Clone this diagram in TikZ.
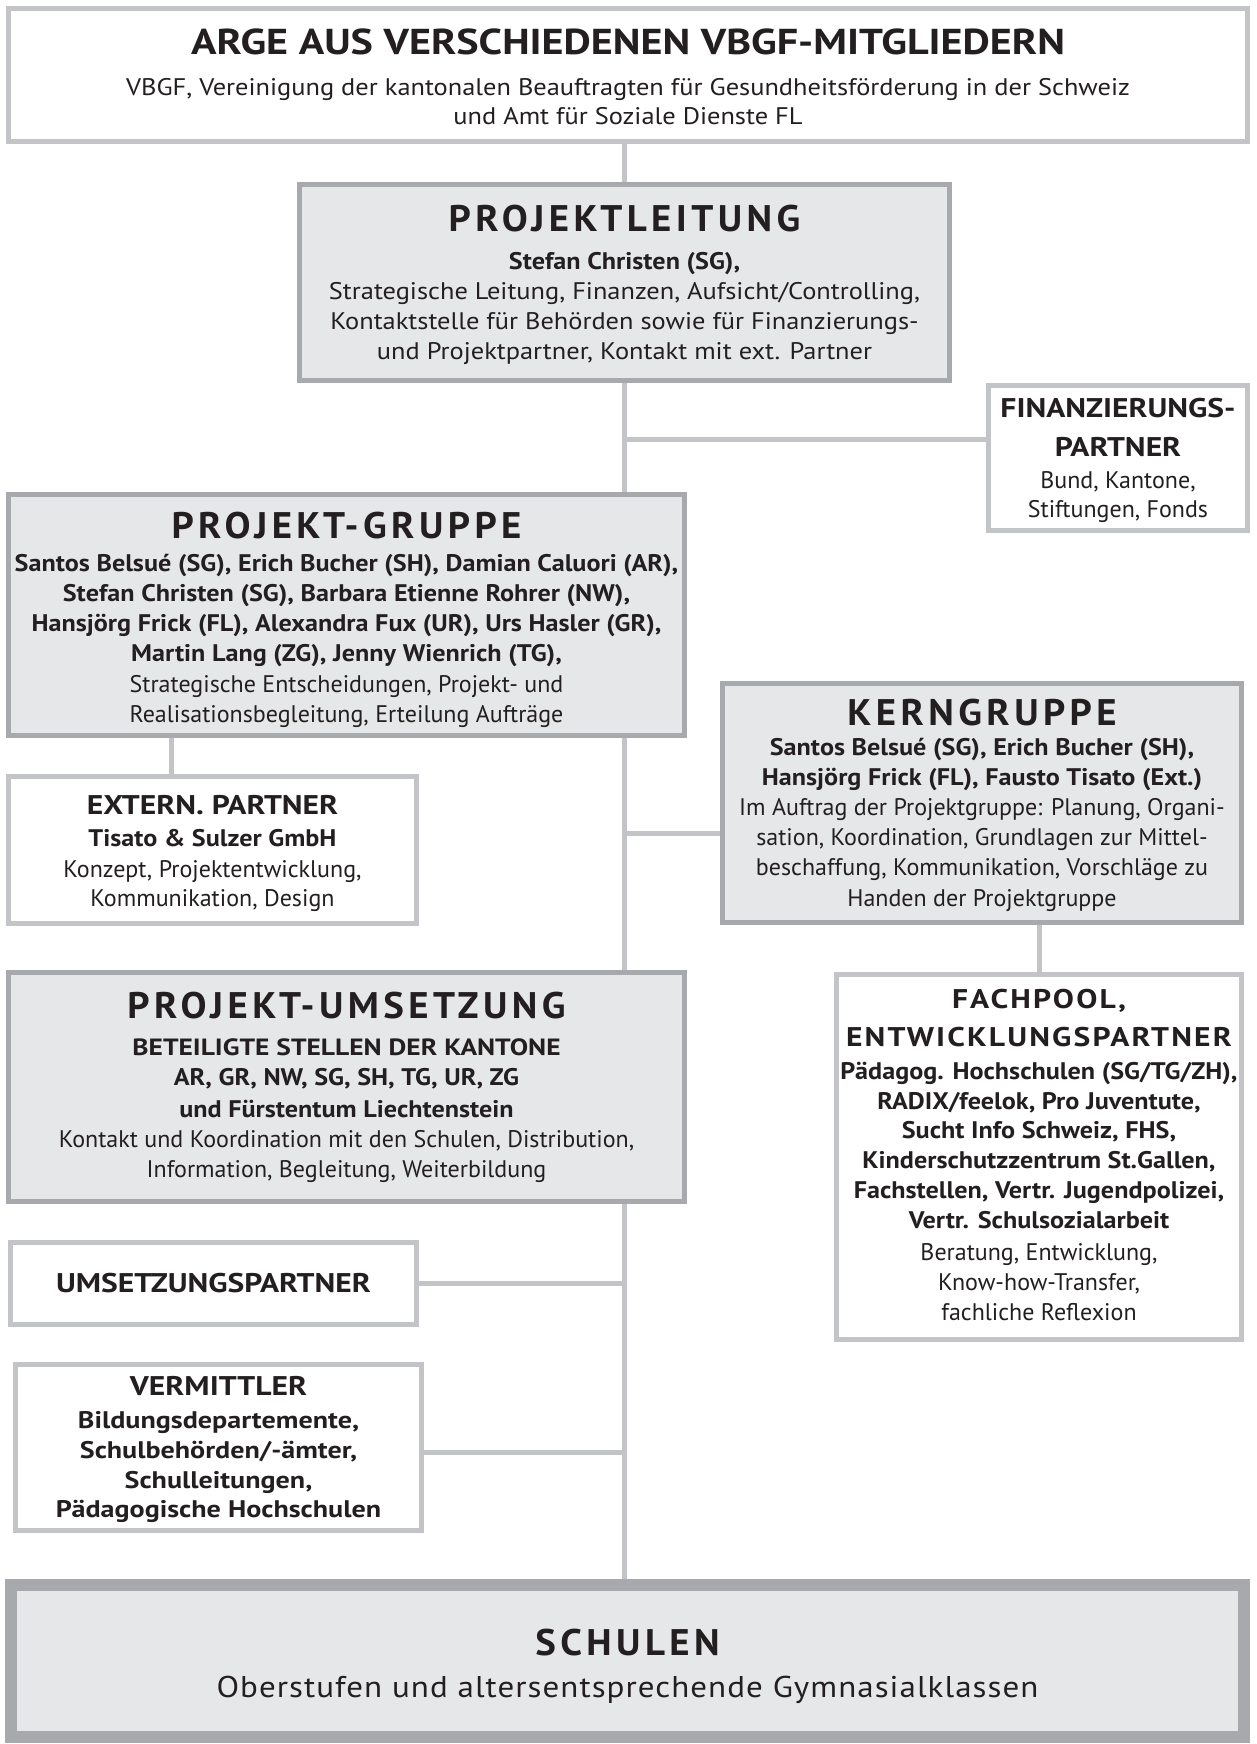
\documentclass[tikz,border=0pt]{standalone}
\usepackage{fontspec}
\setmainfont{PT Sans}[BoldFeatures={FakeStretch=1.09}]
\newfontfamily\widebody{PT Sans}[FakeStretch=1.10]
\newfontfamily\headfont{PT Sans}[FakeStretch=1.17]
\newfontfamily\widehead{PT Sans}[FakeStretch=1.05,LetterSpace=12]
\newfontfamily\fachfont{PT Sans}[FakeStretch=1.17,LetterSpace=8]
\newfontfamily\loose{PT Sans}[FakeStretch=1.10,LetterSpace=3.5]
\usetikzlibrary{calc,positioning}
\definecolor{rim}{HTML}{C3C4C7}
\definecolor{darkrim}{HTML}{A7A9AC}
\definecolor{pane}{HTML}{E6E7E8}
\definecolor{ink}{HTML}{231F20}
\newcommand\fsz[2]{\fontsize{#1}{#2}\selectfont}

\begin{document}
\begin{tikzpicture}[x=1pt,y=-1pt,
  box/.style={draw=rim,line width=5pt,fill=white,inner sep=0pt},
  panebox/.style={box,draw=darkrim,fill=pane},
  txt/.style={inner sep=0pt,align=center,text=ink,font=\fsz{24}{30}},
  link/.style={draw=rim,line width=5pt}]
\useasboundingbox (0,0) rectangle (1257,1744);
\node[box,minimum width=1239pt,minimum height=133pt] (arge) at (628,75) {};
\node[panebox,minimum width=650pt,minimum height=196pt] (leitung) at (624.5,282.5) {};
\node[box,minimum width=259pt,minimum height=145pt] (finanz) at (1118,458) {};
\node[panebox,minimum width=676pt,minimum height=241pt] (gruppe) at (346.5,615) {};
\node[panebox,minimum width=519pt,minimum height=239pt] (kern) at (982,803) {};
\node[box,minimum width=408pt,minimum height=147pt] (extern) at (212.5,850) {};
\node[panebox,minimum width=676pt,minimum height=229pt] (umsetzung) at (346.5,1087) {};
\node[box,minimum width=405pt,minimum height=365pt] (fachpool) at (1039,1157) {};
\node[box,minimum width=406pt,minimum height=82pt] (upartner) at (213.5,1283.5) {};
\node[box,minimum width=406pt,minimum height=166pt] (vermittler) at (218.5,1447.5) {};
\node[panebox,line width=12pt,minimum width=1233pt,minimum height=152pt] (schulen) at (627.5,1661) {};

\node[txt,below=22.5pt of arge.north] (argeT) {\fsz{36}{40}\headfont\bfseries ARGE AUS VERSCHIEDENEN VBGF-MITGLIEDERN\\[11pt]
  \widebody VBGF, Vereinigung der kantonalen Beauftragten für Gesundheitsförderung in der Schweiz\\[-1pt]
  \widebody und Amt für Soziale Dienste FL};
\node[txt,below=23pt of leitung.north] (leitungT) {\fsz{37}{40}\widehead\bfseries PROJEKTLEITUNG\\[8pt]
  \bfseries Stefan Christen (SG),\\
  \widebody Strategische Leitung, Finanzen, Aufsicht/Controlling,\\
  \widebody Kontaktstelle für Behörden sowie für Finanzierungs-\\
  \widebody und Projektpartner, Kontakt mit ext. Partner};
\node[txt,below=15.5pt of finanz.north] (finanzT) {\fsz{27}{30}\headfont\bfseries FINANZIERUNGS-\\[9pt]
  \fsz{27}{30}\headfont\bfseries PARTNER\\[2pt]
  Bund, Kantone,\\[-1pt]
  Stiftungen, Fonds};
\node[txt,below=20pt of gruppe.north] (gruppeT) {\fsz{37}{40}\widehead\bfseries PROJEKT-GRUPPE\\[3pt]
  \bfseries Santos Belsué (SG), Erich Bucher (SH), Damian Caluori (AR),\\
  \bfseries Stefan Christen (SG), Barbara Etienne Rohrer (NW),\\
  \bfseries Hansjörg Frick (FL), Alexandra Fux (UR), Urs Hasler (GR),\\
  \bfseries Martin Lang (ZG), Jenny Wienrich (TG),\\[1pt]
  Strategische Entscheidungen, Projekt- und\\
  Realisationsbegleitung, Erteilung Aufträge};
\node[txt,below=17.5pt of kern.north] (kernT) {\fsz{37}{40}\widehead\bfseries KERNGRUPPE\\[0.5pt]
  \bfseries Santos Belsué (SG), Erich Bucher (SH),\\
  \bfseries Hansjörg Frick (FL), Fausto Tisato (Ext.)\\
  Im Auftrag der Projektgruppe: Planung, Organi-\\
  sation, Koordination, Grundlagen zur Mittel-\\
  beschaffung, Kommunikation, Vorschläge zu\\[1pt]
  Handen der Projektgruppe};
\node[txt,below=21.5pt of extern.north] (externT) {\fsz{27}{30}\headfont\bfseries EXTERN. PARTNER\\[2pt]
  \bfseries Tisato \& Sulzer GmbH\\[1pt]
  Konzept, Projektentwicklung,\\[-1pt]
  Kommunikation, Design};
\node[txt,below=22pt of umsetzung.north] (umsetzungT) {\fsz{37}{40}\widehead\bfseries PROJEKT-UMSETZUNG\\[6.5pt]
  \fsz{23.5}{30}\headfont\bfseries BETEILIGTE STELLEN DER KANTONE\\
  \bfseries AR, GR, NW, SG, SH, TG, UR, ZG\\[2pt]
  \bfseries und Fürstentum Liechtenstein\\
  Kontakt und Koordination mit den Schulen, Distribution,\\
  Information, Begleitung, Weiterbildung};
\node[txt,below=17.5pt of fachpool.north] (fachpoolT) {\fsz{27}{30}\fachfont\bfseries FACHPOOL,\\[8pt]
  \fsz{27}{30}\fachfont\bfseries ENTWICKLUNGSPARTNER\\[3pt]
  \bfseries Pädagog. Hochschulen (SG/TG/ZH),\\
  \bfseries RADIX/feelok, Pro Juventute,\\[-1pt]
  \bfseries Sucht Info Schweiz, FHS,\\
  \bfseries Kinderschutzzentrum St.Gallen,\\
  \bfseries Fachstellen, Vertr. Jugendpolizei,\\
  \bfseries Vertr. Schulsozialarbeit\\[2pt]
  Beratung, Entwicklung,\\
  Know-how-Transfer,\\
  fachliche Reflexion};
\node[txt,font=\fsz{27}{30}\headfont\bfseries] (upartnerT) at (upartner) {UMSETZUNGSPARTNER};
\node[txt,font=\fsz{24}{30}\headfont\bfseries,below=14pt of vermittler.north] (vermittlerT) {\fsz{27}{30}\headfont\bfseries VERMITTLER\\[3pt]
  Bildungsdepartemente,\\
  Schulbehörden/-ämter,\\
  Schulleitungen,\\[-1pt]
  Pädagogische Hochschulen};
\node[txt,below=50pt of schulen.north] (schulenT) {\fsz{37}{40}\widehead\bfseries SCHULEN\\[11.5pt]
  \fsz{30}{30}\loose Oberstufen und altersentsprechende Gymnasialklassen};

\coordinate (finJ) at ($(leitung.south)!.52!(leitung.south |- gruppe.north)$);
\coordinate (kernJ) at (gruppe.south -| leitung.south);
\coordinate (extJ) at ($(extern.north west)!.4!(extern.north east)$);
\draw[link] (leitung.north) -- (leitung.north |- arge.south);
\draw[link] (leitung.south) -- (leitung.south |- gruppe.north);
\draw[link] (finJ) -- (finJ -| finanz.west);
\draw[link] (kernJ) -- (kernJ |- umsetzung.north);
\draw[link] ([yshift=-95pt]kernJ) -- ([yshift=-95pt]kernJ -| kern.west);
\draw[link] (extJ) -- (extJ |- gruppe.south);
\draw[link] (fachpool.north) -- (fachpool.north |- kern.south);
\draw[link] (umsetzung.south -| leitung.south) -- (schulen.north -| leitung.south);
\draw[link] (upartner.east) -- (upartner.east -| leitung.south);
\draw[link] ([yshift=-4.5pt]vermittler.east) -- ([yshift=-4.5pt]vermittler.east -| leitung.south);
\end{tikzpicture}
\end{document}
